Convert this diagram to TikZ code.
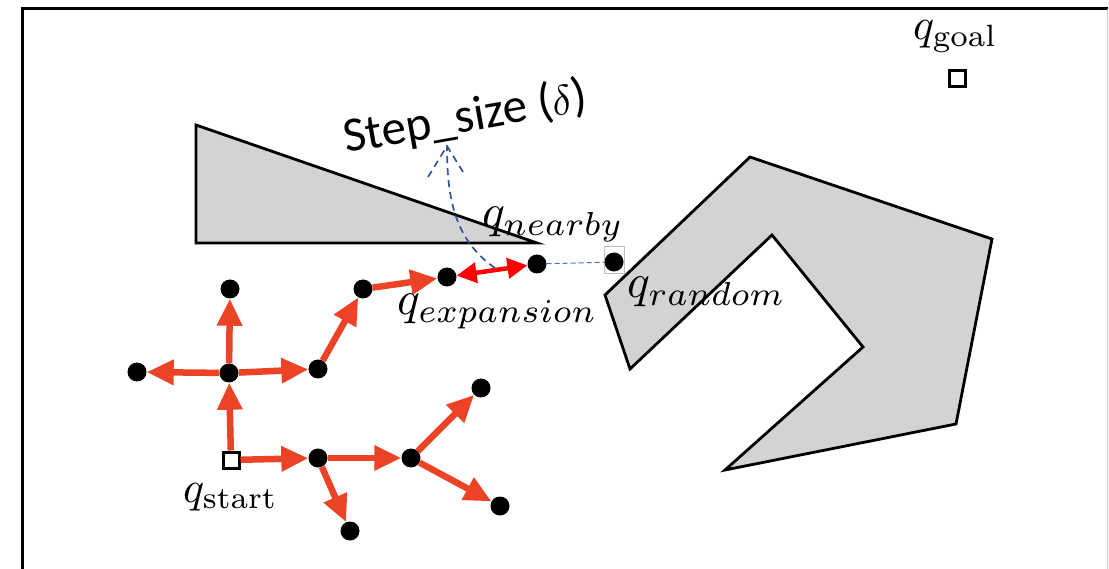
\documentclass[tikz,border=0pt]{standalone}
\usepackage{fontspec}
\usepackage{graphicx}
\newfontfamily\calib{Carlito}
\usetikzlibrary{arrows.meta}
\definecolor{arr}{RGB}{236,66,38}
\definecolor{redtwo}{RGB}{255,0,0}
\definecolor{obst}{RGB}{211,211,211}
\definecolor{dblue}{RGB}{47,85,151}
\definecolor{lblue}{RGB}{68,114,196}
\newcommand\bigq[1]{\scalebox{4.4}{#1}}
\newcommand\bigqi[1]{\scalebox{4.75}{#1}}
\begin{document}
\begin{tikzpicture}[x=1pt,y=-1pt,
 dot/.style={circle,fill=black,inner sep=0,minimum size=19pt},
 sq/.style={rectangle,draw=black,line width=3pt,fill=white,inner sep=0,minimum size=16pt},
 tree/.style={draw=arr,line width=6.5pt,-{Triangle[length=27pt,width=24pt]}},
 obstacle/.style={fill=obst,draw=black,line width=2.8pt,line join=miter},
 lbl/.style={inner sep=0,anchor=base west},
 dashcurve/.style={draw=dblue,line width=1.7pt,dash pattern=on 7pt off 5pt},
]
\useasboundingbox (0,0) rectangle (1109,569);
% frame
\draw[line width=3pt] (22.5,569) -- (22.5,9) -- (1108,9);
\draw[black!20,line width=1pt] (1107.5,9) -- (1107.5,569);
% obstacles
\draw[obstacle] (196,125) -- (196,243) -- (537,243) -- cycle;
\draw[obstacle] (605,295) -- (750,157) -- (992,239) -- (956,424) -- (725,470) -- (863,347) -- (772,235) -- (630,369) -- cycle;
% nodes
\node[sq] (start) at (231,460) {};
\node[sq] (goal) at (957,79) {};
\node[dot] (A) at (229,373) {};
\node[dot] (B) at (230,289) {};
\node[dot] (C) at (137,372) {};
\node[dot] (D) at (318,369) {};
\node[dot] (E) at (363,289) {};
\node[dot] (F) at (447,277) {};
\node[dot] (G) at (537,264) {};
\draw[black!25,line width=0.7pt] (604,246) rectangle (624,273);
\node[dot] (H) at (614,262) {};
\node[dot] (I) at (318,458) {};
\node[dot] (J) at (411,458) {};
\node[dot] (K) at (350,531) {};
\node[dot] (L) at (481,388) {};
\node[dot] (M) at (500,506) {};
% tree edges
\draw[tree] (start) -- (A);
\draw[tree] (A) -- (B);
\draw[tree] (A) -- (C);
\draw[tree] (A) -- (D);
\draw[tree] (D) -- (E);
\draw[tree] (E) -- (F);
\draw[tree] (start) -- (I);
\draw[tree] (I) -- (J);
\draw[tree] (I) -- (K);
\draw[tree] (J) -- (L);
\draw[tree] (J) -- (M);
% expansion
\draw[lblue,line width=1pt,dash pattern=on 5pt off 3pt] (G) -- (H);
\draw[redtwo,line width=4.5pt,{Triangle[length=20pt,width=20pt]}-{Triangle[length=20pt,width=20pt]}] (F) -- (G);
% labels
\node[lbl] (lnear) at (482,228) {\bigqi{$q_{nearby}$}};
\node[lbl] (lexp) at (397,315) {\bigqi{$q_{expansion}$}};
\node[lbl] (lrand) at (627,298) {\bigqi{$q_{random}$}};
\node[lbl] (lstart) at (183,502) {\bigq{$q_{\mathrm{start}}$}};
\node[lbl] (lgoal) at (913,40) {\bigq{$q_{\mathrm{goal}}$}};
\node[inner sep=0,anchor=base west,rotate=10,font=\calib\fontsize{49}{52}\selectfont] (ss) at (346,153) {Step\_size (\scalebox{4.2}{\normalsize$\delta$})};
% step size pointer
\coordinate (c0) at (495,268);
\coordinate (tip) at (447,146);
\draw[dashcurve] (c0) .. controls (455,240) and (447,200) .. (tip);
\draw[dashcurve] (428,177) -- (tip) -- (463,172);
\end{tikzpicture}
\end{document}
